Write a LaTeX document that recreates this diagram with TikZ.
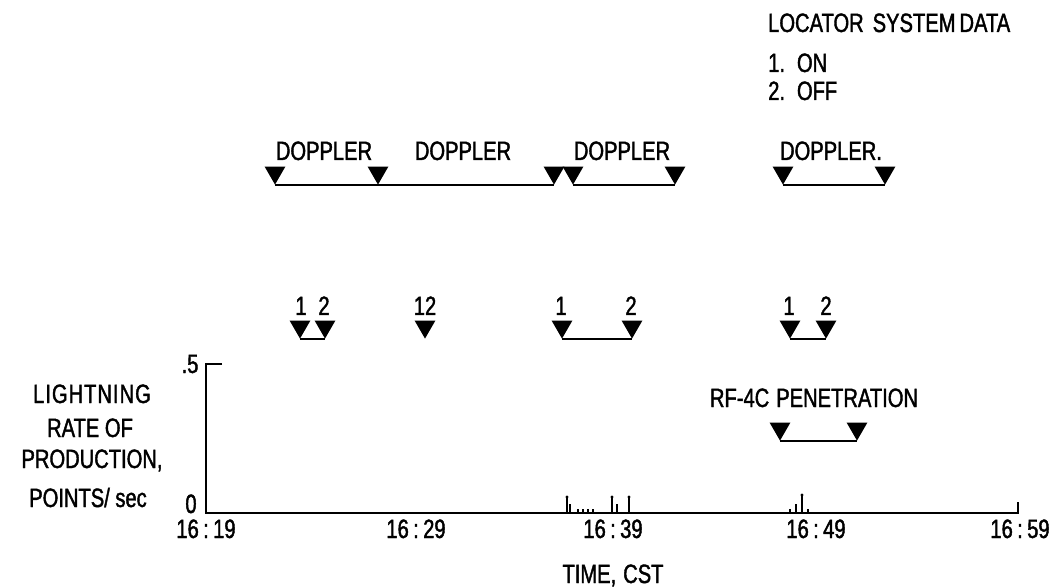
\documentclass[tikz,border=0pt]{standalone}
\usepackage{fontspec}
\setmainfont[FakeStretch=0.76,FakeBold=1.5]{Liberation Sans}
\usetikzlibrary{shapes.geometric}
\begin{document}
\begin{tikzpicture}[x=1pt,y=-1pt,
  tri/.style={regular polygon, regular polygon sides=3, shape border rotate=180,
    fill=black, draw=none, inner sep=0pt, minimum size=24pt, anchor=corner 1},
  lbl/.style={inner sep=0pt, anchor=base, font=\fontsize{26.5}{30}\selectfont},
  lbll/.style={lbl, anchor=base west},
  conn/.style={line width=2pt},
  axis/.style={line width=2pt},
  spike/.style={line width=1.2pt}]
\useasboundingbox (0,0) rectangle (1061,588);

% legend
\node[lbll] (leg) at (768,32) {LOCATOR\hspace{9pt}SYSTEM\hspace{4pt}DATA};
\node[lbll] (leg1) at (768,72) {1.\hspace{12pt}ON};
\node[lbll] (leg2) at (768,100) {2.\hspace{12pt}OFF};

% doppler intervals
\node[lbl] (dl1) at (324,160) {DOPPLER};
\node[lbl] (dl2) at (463,160) {DOPPLER};
\node[lbl] (dl3) at (622,160) {DOPPLER};
\node[lbl] (dl4) at (831,160) {DOPPLER.};
\node[tri] (d1) at (275,185) {};
\node[tri] (d2) at (378,185) {};
\node[tri] (d3) at (554,185) {};
\node[tri] (d4) at (573,185) {};
\node[tri] (d5) at (675,185) {};
\node[tri] (d6) at (783,185) {};
\node[tri] (d7) at (885,185) {};
\draw[conn] (d1.corner 1) -- (d2.corner 1) -- (d3.corner 1);
\draw[conn] (d4.corner 1) -- (d5.corner 1);
\draw[conn] (d6.corner 1) -- (d7.corner 1);

% locator system marks
\node[lbl] (n1) at (301,315) {1};
\node[lbl] (n2) at (324,315) {2};
\node[lbl] (n3) at (425,315) {12};
\node[lbl] (n4) at (561,315) {1};
\node[lbl] (n5) at (631,315) {2};
\node[lbl] (n6) at (789,315) {1};
\node[lbl] (n7) at (826,315) {2};
\node[tri] (l1) at (300,339) {};
\node[tri] (l2) at (325,339) {};
\node[tri] (l3) at (425,339) {};
\node[tri] (l4) at (562,339) {};
\node[tri] (l5) at (632,339) {};
\node[tri] (l6) at (790,339) {};
\node[tri] (l7) at (826,339) {};
\draw[conn] (l1.corner 1) -- (l2.corner 1);
\draw[conn] (l4.corner 1) -- (l5.corner 1);
\draw[conn] (l6.corner 1) -- (l7.corner 1);

% RF-4C penetration
\node[lbl] (rfl) at (814,407) {RF-4C\hspace{7pt}PENETRATION};
\node[tri] (r1) at (780,441) {};
\node[tri] (r2) at (857,441) {};
\draw[conn] (r1.corner 1) -- (r2.corner 1);

% axes
\coordinate (ytick) at (222,364);
\coordinate (ytop) at (206,364);
\coordinate (orig) at (206,513);
\coordinate (xend) at (1018,513);
\coordinate (xtick) at (1018,502);
\draw[axis] (ytick) -- (ytop) -- (orig) -- (xend) -- (xtick);

\node[lbl] (y5) at (190,373) {.5};
\node[lbl] (y0) at (191,513) {0};
\node[lbl] (ya) at (92,403) {L\hspace{1pt}I\hspace{1pt}G\hspace{1pt}H\hspace{1pt}T\hspace{1pt}N\hspace{1pt}I\hspace{1pt}N\hspace{1pt}G};
\node[lbl] (yb) at (90,437) {RATE OF};
\node[lbl] (yc) at (92,468) {PRODUCTION,};
\node[lbl] (yd) at (88,507) {POINTS/ sec};

\node[lbl] (t1) at (206,538) {16\,:\,19};
\node[lbl] (t2) at (416,538) {16\,:\,29};
\node[lbl] (t3) at (613,538) {16\,:\,39};
\node[lbl] (t4) at (816,538) {16\,:\,49};
\node[lbl] (t5) at (1020,538) {16\,:\,59};
\node[lbl] (tx) at (613,583) {TIME,\hspace{7pt}CST};

% data spikes
\foreach \x in {567,612,629} {
  \draw[spike] (\x,513) -- (\x,497);
  \fill (\x,497) circle (1.6pt);
}
\draw[spike] (802,513) -- (802,495);
\fill (802,495) circle (1.6pt);
\foreach \x in {570,617,796} \draw[spike] (\x,513) -- (\x,504);
\foreach \x in {578,583,588,593,790,808} \draw[spike] (\x,513) -- (\x,509);
\end{tikzpicture}
\end{document}
